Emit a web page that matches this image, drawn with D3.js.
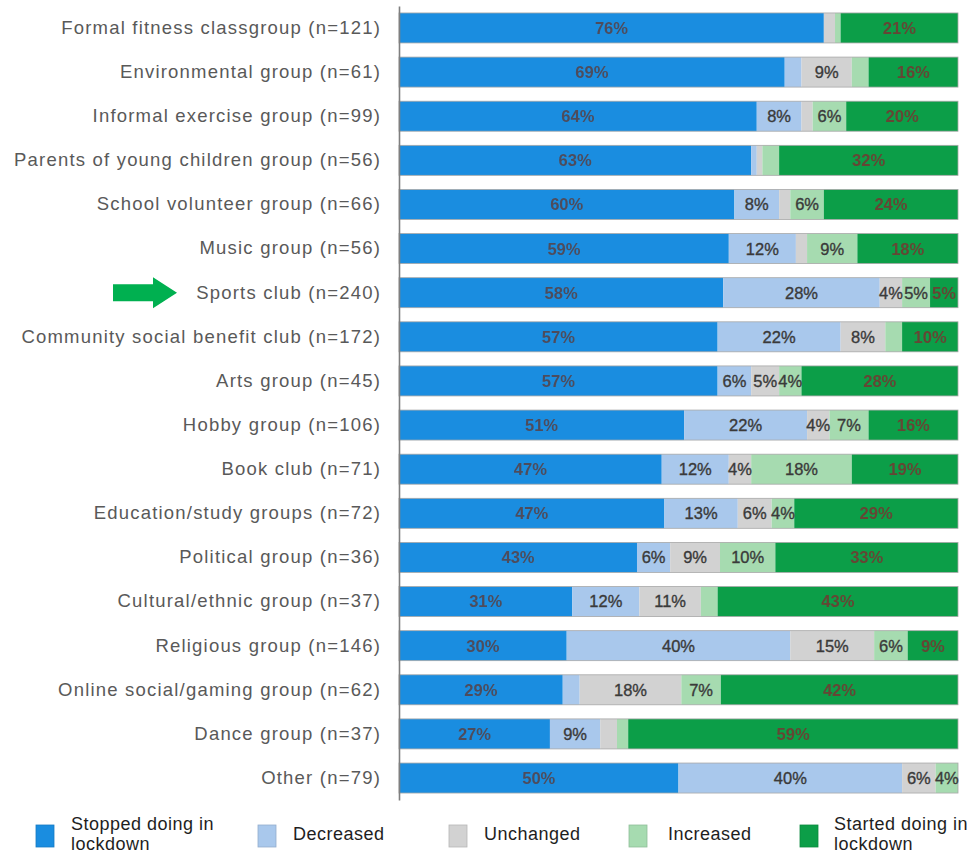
<!DOCTYPE html>
<html>
<head>
<meta charset="utf-8">
<script src="https://cdn.jsdelivr.net/npm/d3@7"></script>
<style>
  html, body { margin: 0; padding: 0; background: #fff; }
  svg { display: block; font-family: "Liberation Sans", Arial, sans-serif; }
</style>
</head>
<body>
<svg id="chart" width="975" height="855"></svg>
<script>
// Groups and their share of activity change during lockdown (percent)
const categories = [
  "Formal fitness classgroup (n=121)",
  "Environmental group (n=61)",
  "Informal exercise group (n=99)",
  "Parents of young children group (n=56)",
  "School volunteer group (n=66)",
  "Music group (n=56)",
  "Sports club (n=240)",
  "Community social benefit club (n=172)",
  "Arts group (n=45)",
  "Hobby group (n=106)",
  "Book club (n=71)",
  "Education/study groups (n=72)",
  "Political group (n=36)",
  "Cultural/ethnic group (n=37)",
  "Religious group (n=146)",
  "Online social/gaming group (n=62)",
  "Dance group (n=37)",
  "Other (n=79)"
];
const seriesNames = ["Stopped doing in lockdown", "Decreased", "Unchanged", "Increased", "Started doing in lockdown"];
const stopped   = [76, 69, 64, 63, 60, 59, 58, 57, 57, 51, 47, 47, 43, 31, 30, 29, 27, 50];
const decreased = [ 0,  3,  8,  1,  8, 12, 28, 22,  6, 22, 12, 13,  6, 12, 40,  3,  9, 40];
const unchanged = [ 2,  9,  2,  1,  2,  2,  4,  8,  5,  4,  4,  6,  9, 11, 15, 18,  3,  6];
const increased = [ 1,  3,  6,  3,  6,  9,  5,  3,  4,  7, 18,  4, 10,  3,  6,  7,  2,  4];
const started   = [21, 16, 20, 32, 24, 18,  5, 10, 28, 16, 19, 29, 33, 43,  9, 42, 59,  0];
const highlighted = "Sports club (n=240)";

const colors = ["#1a8de0", "#a9c8ec", "#d2d2d2", "#a6dbb0", "#0c9e48"];
const darkSeries = new Set([0, 4]);

const rows = categories.map((c, i) => ({
  category: c,
  [seriesNames[0]]: stopped[i],
  [seriesNames[1]]: decreased[i],
  [seriesNames[2]]: unchanged[i],
  [seriesNames[3]]: increased[i],
  [seriesNames[4]]: started[i]
}));

const svg = d3.select("#chart");
const x = d3.scaleLinear().domain([0, 1]).range([399, 958]);
const y = d3.scaleBand().domain(categories).range([5.9, 800.1])
  .paddingInner(0.32).paddingOuter(0.16);

const stack = d3.stack().keys(seriesNames).offset(d3.stackOffsetExpand);
const layers = stack(rows);

const defs = svg.append("defs");
defs.append("filter").attr("id", "soft")
  .append("feGaussianBlur").attr("stdDeviation", 0.55);

// stacked segments
const g = svg.append("g");
layers.forEach((layer, si) => {
  g.append("g").attr("fill", colors[si])
    .selectAll("rect").data(layer).join("rect")
    .attr("x", d => x(d[0]))
    .attr("y", d => y(d.data.category))
    .attr("width", d => Math.max(0, x(d[1]) - x(d[0])))
    .attr("height", y.bandwidth());
});

// thin outline round each bar
g.append("g").selectAll("rect").data(categories).join("rect")
  .attr("x", x(0)).attr("y", d => y(d))
  .attr("width", x(1) - x(0)).attr("height", y.bandwidth())
  .attr("fill", "none").attr("stroke", "#a8a8a8").attr("stroke-width", 0.8);

// value labels (shown for segments of 4% or more)
layers.forEach((layer, si) => {
  const dark = darkSeries.has(si);
  g.append("g")
    .attr("filter", dark ? "url(#soft)" : null)
    .selectAll("text").data(layer.filter(d => d.data[layer.key] >= 4)).join("text")
    .attr("x", d => (x(d[0]) + x(d[1])) / 2)
    .attr("y", d => y(d.data.category) + y.bandwidth() / 2)
    .attr("dy", "0.36em")
    .attr("text-anchor", "middle")
    .attr("font-size", 16.5)
    .attr("font-weight", dark ? "bold" : "normal")
    .attr("fill", si === 0 ? "#5a3c3c" : si === 4 ? "#7c2e2e" : "#3a3a3a")
    .attr("fill-opacity", dark ? 0.8 : 1)
    .attr("stroke", dark ? "none" : "#3a3a3a")
    .attr("stroke-width", dark ? 0 : 0.35)
    .text(d => d.data[layer.key] + "%");
});

// category axis
const yAxis = d3.axisLeft(y).tickSize(0).tickPadding(18);
const ax = svg.append("g").attr("transform", `translate(${x(0)},0)`).call(yAxis);
ax.select(".domain").attr("stroke", "#7f7f7f").attr("stroke-width", 1.6);
ax.selectAll("text")
  .attr("font-size", 18.5)
  .attr("letter-spacing", 1.2)
  .attr("font-family", "Liberation Sans, Arial, sans-serif")
  .attr("fill", "#595959");

// arrow pointing at the highlighted group
const ay = y(highlighted) + y.bandwidth() / 2;
svg.append("path")
  .attr("d", `M113,${ay - 8.5} L153,${ay - 8.5} L153,${ay - 15.5} L177,${ay} L153,${ay + 15.5} L153,${ay + 8.5} L113,${ay + 8.5} Z`)
  .attr("fill", "#00b050");

// legend
const legendX = [36, 258, 449, 629, 800];
const legendLines = [["Stopped doing in", "lockdown"], ["Decreased"], ["Unchanged"], ["Increased"], ["Started doing in", "lockdown"]];
const lg = svg.append("g");
seriesNames.forEach((name, i) => {
  const item = lg.append("g").attr("transform", `translate(${legendX[i]},0)`);
  item.append("rect").attr("x", 0).attr("y", 825).attr("width", 18).attr("height", 22)
    .attr("fill", colors[i]).attr("stroke", d3.color(colors[i]).darker(0.4)).attr("stroke-width", 0.8);
  const lines = legendLines[i];
  const t = item.append("text")
    .attr("font-size", 18).attr("letter-spacing", 0.5).attr("fill", "#1e1e1e");
  const tx = i === 3 ? 39 : i === 4 ? 34 : 35;
  if (lines.length === 2) {
    t.append("tspan").attr("x", tx).attr("y", 830).text(lines[0]);
    t.append("tspan").attr("x", tx).attr("y", 850).text(lines[1]);
  } else {
    t.append("tspan").attr("x", tx).attr("y", 840).text(lines[0]);
  }
});
</script>
</body>
</html>
